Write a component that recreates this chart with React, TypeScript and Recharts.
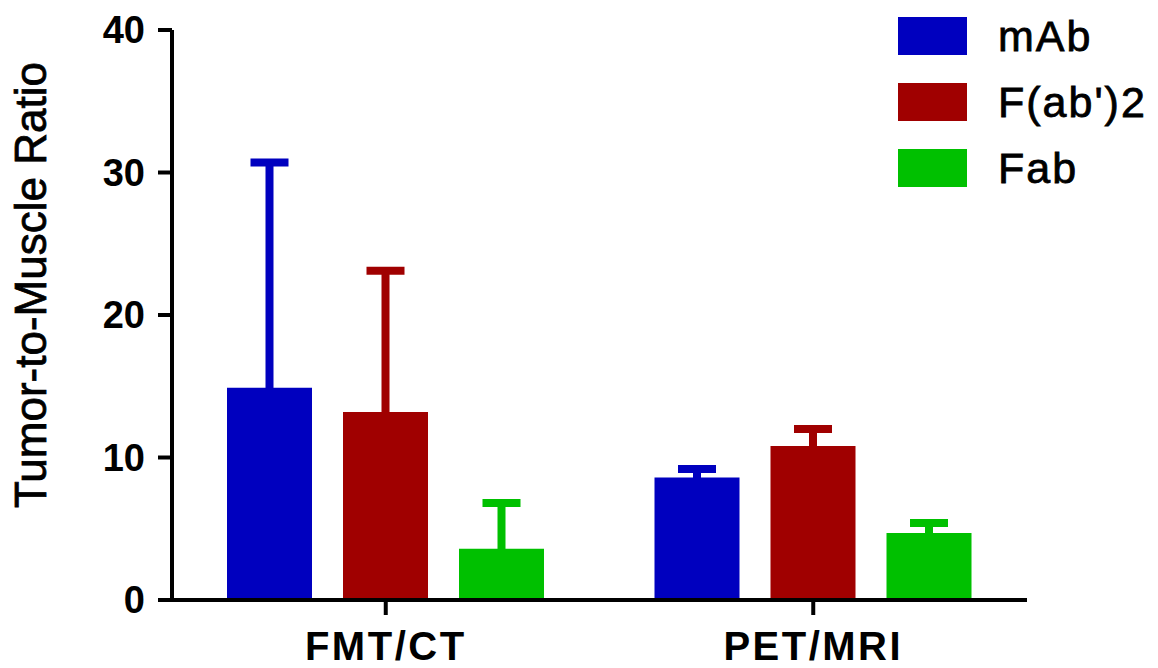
import React from 'react';
import { BarChart, Bar, XAxis, YAxis, ErrorBar, Legend, Label } from 'recharts';

const categories = ['FMT/CT', 'PET/MRI'];
const mAbValues = [14.9, 8.6];
const mAbErrors = [15.8, 0.6];
const fab2Values = [13.2, 10.8];
const fab2Errors = [9.9, 1.2];
const fabValues = [3.6, 4.7];
const fabErrors = [3.2, 0.7];
const yTicks = [0, 10, 20, 30, 40];

const seriesNames = ['mAb', "F(ab')2", 'Fab'];
const seriesColors = ['#0000bf', '#a00000', '#00c000'];

const data = categories.map((c, i) => ({
  category: c,
  mAb: mAbValues[i],
  mAbErr: mAbErrors[i],
  fab2: fab2Values[i],
  fab2Err: fab2Errors[i],
  fab: fabValues[i],
  fabErr: fabErrors[i],
}));

const FONT = '"Liberation Sans", Arial, Helvetica, sans-serif';
// lower whisker hidden inside the bar (same colour), so only the upper half shows
const HIDDEN_LOW = 0.5;

const LegendContent = () => {
  return (
    <div style={{ fontFamily: FONT }}>
      {seriesNames.map((name, i) => (
        <div key={name} style={{ display: 'flex', alignItems: 'center', height: 38, marginBottom: 28 }}>
          <div style={{ width: 69, height: 38, background: seriesColors[i] }} />
          <span
            style={{
              marginLeft: 31,
              fontSize: 43,
              letterSpacing: 2,
              color: '#000',
              lineHeight: '38px',
              WebkitTextStroke: '0.8px #000',
            }}
          >
            {name}
          </span>
        </div>
      ))}
    </div>
  );
};

export default function App() {
  return (
    <div style={{ position: 'absolute', left: 0, top: 0, width: 1158, height: 668, background: '#fff' }}>
      <BarChart
        width={1158}
        height={668}
        data={data}
        margin={{ top: 30, right: 131, left: 0, bottom: 0 }}
        barSize={85}
        barGap={31}
      >
        <Bar dataKey="mAb" name={seriesNames[0]} fill={seriesColors[0]} isAnimationActive={false}>
          <ErrorBar dataKey={(d: any) => [HIDDEN_LOW, d.mAbErr]} width={19} strokeWidth={8} stroke={seriesColors[0]} isAnimationActive={false} />
        </Bar>
        <Bar dataKey="fab2" name={seriesNames[1]} fill={seriesColors[1]} isAnimationActive={false}>
          <ErrorBar dataKey={(d: any) => [HIDDEN_LOW, d.fab2Err]} width={19} strokeWidth={8} stroke={seriesColors[1]} isAnimationActive={false} />
        </Bar>
        <Bar dataKey="fab" name={seriesNames[2]} fill={seriesColors[2]} isAnimationActive={false}>
          <ErrorBar dataKey={(d: any) => [HIDDEN_LOW, d.fabErr]} width={19} strokeWidth={8} stroke={seriesColors[2]} isAnimationActive={false} />
        </Bar>
        <XAxis
          dataKey="category"
          height={68}
          axisLine={{ stroke: '#000', strokeWidth: 4 }}
          tickLine={{ stroke: '#000', strokeWidth: 4 }}
          tickSize={15}
          tickMargin={17}
          tick={{ fill: '#000', fontSize: 40, fontWeight: 'bold', fontFamily: FONT, letterSpacing: 2.5 }}
        />
        <YAxis
          domain={[0, 40]}
          ticks={yTicks}
          width={172}
          axisLine={{ stroke: '#000', strokeWidth: 4 }}
          tickLine={{ stroke: '#000', strokeWidth: 4 }}
          tickSize={14}
          tickMargin={13}
          tick={{ fill: '#000', fontSize: 38, fontWeight: 'bold', fontFamily: FONT }}
        >
          <Label
            content={() => (
              <text
                x={30}
                y={285}
                transform="rotate(-90 30 285)"
                textAnchor="middle"
                dominantBaseline="central"
                fontSize={44}
                fontFamily={FONT}
                fill="#000"
                stroke="#000"
                strokeWidth={0.8}
              >
                Tumor-to-Muscle Ratio
              </text>
            )}
          />
        </YAxis>
        <Legend
          layout="vertical"
          align="center"
          verticalAlign="middle"
          content={<LegendContent />}
          wrapperStyle={{ left: 898, top: 17, width: 260, height: 200 }}
        />
      </BarChart>
    </div>
  );
}
